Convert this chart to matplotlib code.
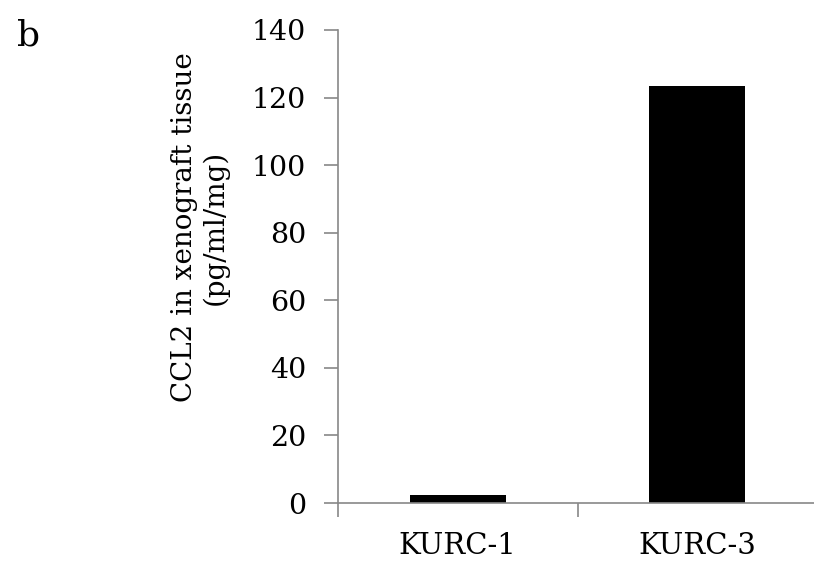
import matplotlib
matplotlib.use("Agg")
import matplotlib.pyplot as plt

# values
samples = ["KURC-1", "KURC-3"]
ccl2 = [2.4, 123.3]
y_ticks = [0, 20, 40, 60, 80, 100, 120, 140]

plt.rcParams['font.family'] = ['DejaVu Serif']
plt.rcParams['font.size'] = 20.5

fig = plt.figure(figsize=(8.14, 5.65), dpi=100)
# axes box in figure fractions (pixels: x 338..817, y 30..503)
ax = fig.add_axes([338 / 814, 1 - 503 / 565, (817 - 338) / 814, (503 - 30) / 565])

pos = list(range(len(samples)))
ax.bar(pos, ccl2, width=0.4, color="black")

ax.set_xlim(-0.5, 1.5)
ax.set_ylim(0, 140)
ax.set_yticks(y_ticks)
ax.set_xticks([-0.5, 0.5, 1.5], minor=False)
ax.set_xticklabels([])
ax.set_xticks(pos, minor=True)
ax.set_xticklabels(samples, minor=True, fontsize=21)
ax.tick_params(axis="x", which="minor", length=0, pad=21)
ax.tick_params(axis="x", which="major", length=10, width=1.2, color="#888888")
ax.tick_params(axis="y", length=10, width=1.2, color="#888888", pad=13)

for side in ["top", "right"]:
    ax.spines[side].set_visible(False)
for side in ["left", "bottom"]:
    ax.spines[side].set_color("#888888")
    ax.spines[side].set_linewidth(1.2)

fig.text(200 / 814, 1 - 227 / 565, "CCL2 in xenograft tissue\n(pg/ml/mg)",
         rotation=90, ha="center", va="center", multialignment="center",
         linespacing=1.15, fontsize=20)
fig.text(17 / 814, 1 - 45 / 565, "b", fontsize=26)

fig.savefig("out.png", dpi=100)
